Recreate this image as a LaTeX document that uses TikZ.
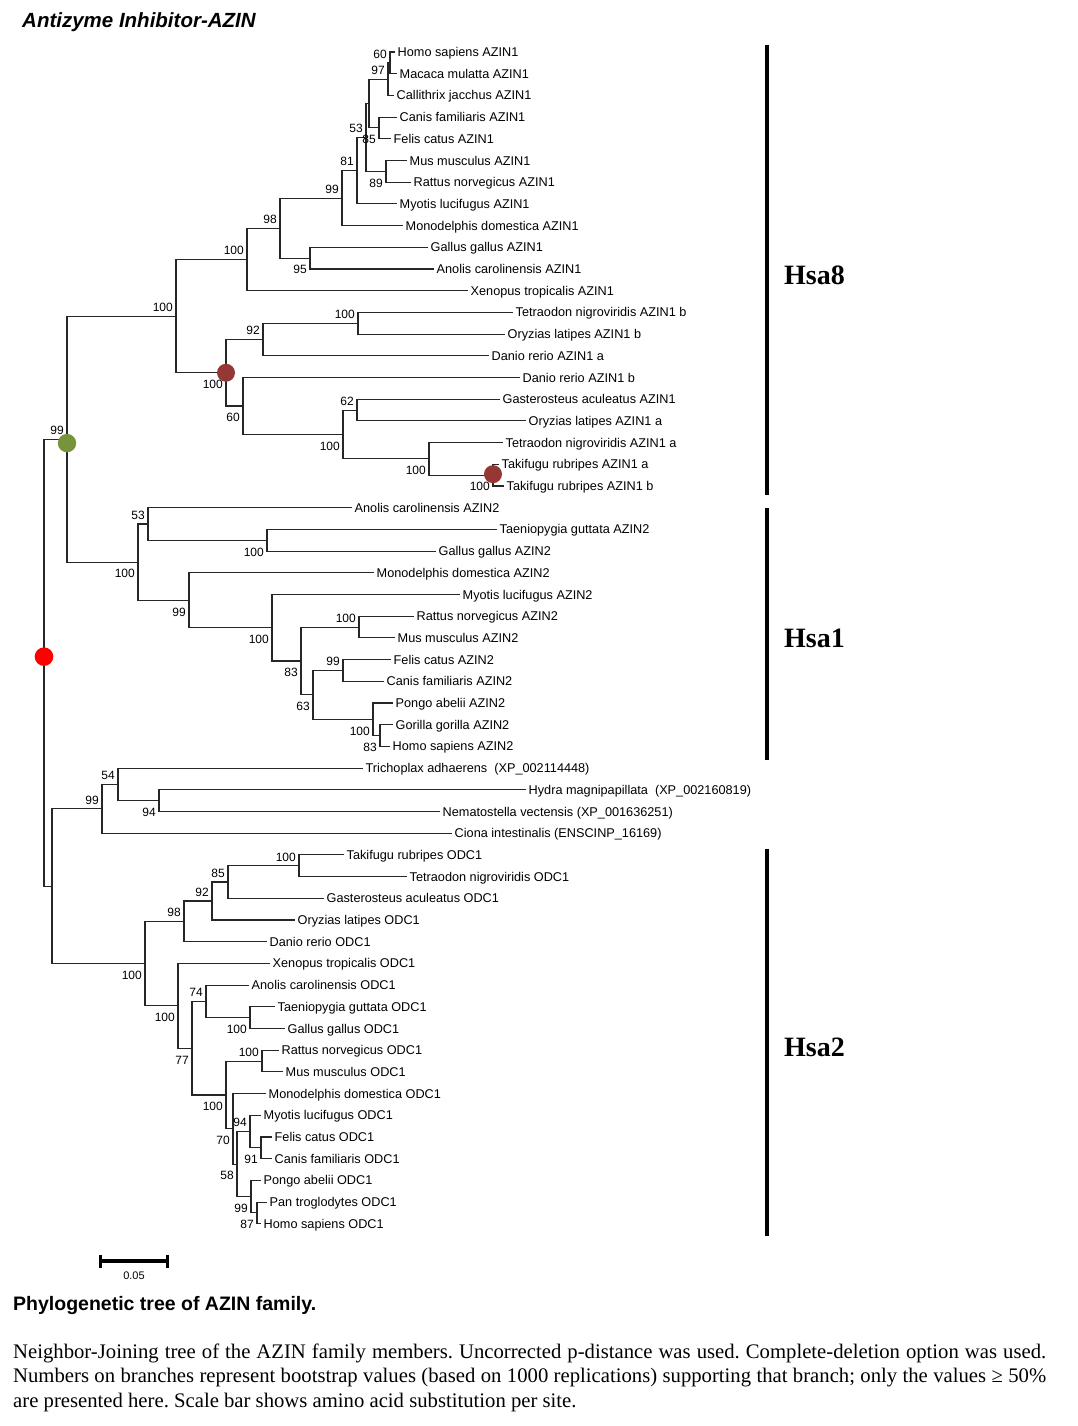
\documentclass[tikz,border=0pt]{standalone}
\usepackage{fontspec}
\setmainfont{Liberation Serif}
\setsansfont{Liberation Sans}
\definecolor{dotred}{RGB}{255,0,0}
\definecolor{dotbrown}{RGB}{149,55,53}
\definecolor{dotgreen}{RGB}{119,147,60}
\frenchspacing
\begin{document}
\begin{tikzpicture}[x=1pt,y=-1pt,
  branch/.style={line width=1.05pt,color=black!85},
  leaf/.style={anchor=west,inner xsep=2.5pt,inner ysep=0pt,text height=9pt,text depth=0pt,
    font=\sffamily\fontsize{12.7}{14}\selectfont},
  bs/.style={anchor=east,inner sep=2pt,text height=8.6pt,text depth=0pt,xshift=-1pt,
    font=\sffamily\fontsize{12}{14}\selectfont},
  bsup/.style={bs,yshift=9pt},
  bsdown/.style={bs,yshift=-11.5pt},
  cladebar/.style={line width=4pt},
  cladename/.style={anchor=base west,inner sep=0pt,font=\bfseries\fontsize{28}{30}\selectfont},
  captionline/.style={anchor=base west,inner sep=0pt,font=\fontsize{20.7}{24}\selectfont}]
  \useasboundingbox (0,0) rectangle (1077,1426);

  \node[anchor=base west,inner sep=0pt,font=\sffamily\bfseries\itshape\fontsize{20.5}{24}\selectfont]
    (title) at (22,28) {Antizyme Inhibitor-AZIN};

  \foreach \tx/\name [count=\i] in {
    395/Homo sapiens AZIN1, 397/Macaca mulatta AZIN1, 394/Callithrix jacchus AZIN1,
    397/Canis familiaris AZIN1, 391/Felis catus AZIN1, 407/Mus musculus AZIN1,
    411/Rattus norvegicus AZIN1, 397/Myotis lucifugus AZIN1, 403/Monodelphis domestica AZIN1,
    428/Gallus gallus AZIN1, 434/Anolis carolinensis AZIN1, 468/Xenopus tropicalis AZIN1,
    513/Tetraodon nigroviridis AZIN1 b, 505/Oryzias latipes AZIN1 b, 489/Danio rerio AZIN1 a,
    520/Danio rerio AZIN1 b, 500/Gasterosteus aculeatus AZIN1, 526/Oryzias latipes AZIN1 a,
    503/Tetraodon nigroviridis AZIN1 a, 499/Takifugu rubripes AZIN1 a, 504/Takifugu rubripes AZIN1 b,
    352/Anolis carolinensis AZIN2, 497/Taeniopygia guttata AZIN2, 436/Gallus gallus AZIN2,
    374/Monodelphis domestica AZIN2, 460/Myotis lucifugus AZIN2, 414/Rattus norvegicus AZIN2,
    395/Mus musculus AZIN2, 391/Felis catus AZIN2, 384/Canis familiaris AZIN2,
    393/Pongo abelii AZIN2, 393/Gorilla gorilla AZIN2, 390/Homo sapiens AZIN2,
    363/Trichoplax adhaerens~~(XP\_002114448), 526/Hydra magnipapillata~~(XP\_002160819),
    440/Nematostella vectensis (XP\_001636251), 452/Ciona intestinalis (ENSCINP\_16169),
    344/Takifugu rubripes ODC1, 407/Tetraodon nigroviridis ODC1, 324/Gasterosteus aculeatus ODC1,
    295/Oryzias latipes ODC1, 267/Danio rerio ODC1, 270/Xenopus tropicalis ODC1,
    249/Anolis carolinensis ODC1, 275/Taeniopygia guttata ODC1, 285/Gallus gallus ODC1,
    279/Rattus norvegicus ODC1, 283/Mus musculus ODC1, 266/Monodelphis domestica ODC1,
    261/Myotis lucifugus ODC1, 272/Felis catus ODC1, 272/Canis familiaris ODC1,
    261/Pongo abelii ODC1, 267/Pan troglodytes ODC1, 261/Homo sapiens ODC1}
    \node[leaf] (l\i) at (\tx,{52+21.7*(\i-1)}) {\name};

  % AZIN1
  \coordinate (a1) at (390,62.85);
  \coordinate (a2) at (388,79.1);
  \coordinate (a3) at (379,127.95);
  \coordinate (a4) at (369,103.5);
  \coordinate (a5) at (386,171.35);
  \coordinate (a6) at (366,137.4);
  \coordinate (a7) at (357,170.65);
  \coordinate (a8) at (342,198.1);
  \coordinate (a9) at (310,258.15);
  \coordinate (a10) at (280,228.1);
  \coordinate (a11) at (247,259.4);
  \coordinate (f1) at (358,323.25);
  \coordinate (f2) at (263,339.5);
  \coordinate (f3) at (357,410.05);
  \coordinate (f4) at (493,475.15);
  \coordinate (f5) at (429,458.9);
  \coordinate (f6) at (343,434.5);
  \coordinate (f7) at (243,406);
  \coordinate (f8) at (226,372.75);
  \coordinate (z1) at (176,316.1);
  % AZIN2
  \coordinate (b1) at (267,540.25);
  \coordinate (b2) at (148,524);
  \coordinate (b3) at (359,627.05);
  \coordinate (b4) at (343,670.45);
  \coordinate (b5) at (380,735.55);
  \coordinate (b6) at (373,719.3);
  \coordinate (b7) at (313,694.9);
  \coordinate (b8) at (301,661);
  \coordinate (b9) at (272,627.75);
  \coordinate (b10) at (189,600.3);
  \coordinate (b11) at (138,562.15);
  \coordinate (g) at (67,439.1);
  % outgroup
  \coordinate (o1) at (159,800.65);
  \coordinate (o2) at (118,784.4);
  \coordinate (o3) at (102,808.8);
  % ODC1
  \coordinate (c1) at (299,865.75);
  \coordinate (c2) at (228,882);
  \coordinate (c3) at (212,901);
  \coordinate (c4) at (184,921.35);
  \coordinate (c5) at (250,1017.65);
  \coordinate (c6) at (206,1001.4);
  \coordinate (c7) at (262,1061.05);
  \coordinate (c8) at (261,1147.85);
  \coordinate (c9) at (250,1131.6);
  \coordinate (c10) at (257,1212.95);
  \coordinate (c11) at (251,1196.7);
  \coordinate (c12) at (237,1164.15);
  \coordinate (c13) at (233,1128.9);
  \coordinate (c14) at (226,1095);
  \coordinate (c15) at (192,1048.2);
  \coordinate (c16) at (178,1005.8);
  \coordinate (c17) at (145,963.6);
  \coordinate (r2) at (52,886.2);
  \coordinate (root) at (44,662.65);

  \draw[branch] (l1.west) -| (a1) |- (l2.west);
  \draw[branch] (a1) -| (a2) |- (l3.west);
  \draw[branch] (l4.west) -| (a3) |- (l5.west);
  \draw[branch] (a2) -| (a4) |- (a3);
  \draw[branch] (l6.west) -| (a5) |- (l7.west);
  \draw[branch] (a4) -| (a6) |- (a5);
  \draw[branch] (a6) -| (a7) |- (l8.west);
  \draw[branch] (a7) -| (a8) |- (l9.west);
  \draw[branch] (l10.west) -| (a9) |- (l11.west);
  \draw[branch] (a8) -| (a10) |- (a9);
  \draw[branch] (a10) -| (a11) |- (l12.west);
  \draw[branch] (l13.west) -| (f1) |- (l14.west);
  \draw[branch] (f1) -| (f2) |- (l15.west);
  \draw[branch] (l17.west) -| (f3) |- (l18.west);
  \draw[branch] (l20.west) -| (f4) |- (l21.west);
  \draw[branch] (l19.west) -| (f5) |- (f4);
  \draw[branch] (f3) -| (f6) |- (f5);
  \draw[branch] (l16.west) -| (f7) |- (f6);
  \draw[branch] (f2) -| (f8) |- (f7);
  \draw[branch] (a11) -| (z1) |- (f8);

  \draw[branch] (l23.west) -| (b1) |- (l24.west);
  \draw[branch] (l22.west) -| (b2) |- (b1);
  \draw[branch] (l27.west) -| (b3) |- (l28.west);
  \draw[branch] (l29.west) -| (b4) |- (l30.west);
  \draw[branch] (l32.west) -| (b5) |- (l33.west);
  \draw[branch] (l31.west) -| (b6) |- (b5);
  \draw[branch] (b4) -| (b7) |- (b6);
  \draw[branch] (b3) -| (b8) |- (b7);
  \draw[branch] (l26.west) -| (b9) |- (b8);
  \draw[branch] (l25.west) -| (b10) |- (b9);
  \draw[branch] (b2) -| (b11) |- (b10);
  \draw[branch] (z1) -| (g) |- (b11);

  \draw[branch] (l35.west) -| (o1) |- (l36.west);
  \draw[branch] (l34.west) -| (o2) |- (o1);
  \draw[branch] (o2) -| (o3) |- (l37.west);

  \draw[branch] (l38.west) -| (c1) |- (l39.west);
  \draw[branch] (c1) -| (c2) |- (l40.west);
  \draw[branch] (c2) -| (c3) |- (l41.west);
  \draw[branch] (c3) -| (c4) |- (l42.west);
  \draw[branch] (l45.west) -| (c5) |- (l46.west);
  \draw[branch] (l44.west) -| (c6) |- (c5);
  \draw[branch] (l47.west) -| (c7) |- (l48.west);
  \draw[branch] (l51.west) -| (c8) |- (l52.west);
  \draw[branch] (l50.west) -| (c9) |- (c8);
  \draw[branch] (l54.west) -| (c10) |- (l55.west);
  \draw[branch] (l53.west) -| (c11) |- (c10);
  \draw[branch] (c9) -| (c12) |- (c11);
  \draw[branch] (l49.west) -| (c13) |- (c12);
  \draw[branch] (c7) -| (c14) |- (c13);
  \draw[branch] (c6) -| (c15) |- (c14);
  \draw[branch] (l43.west) -| (c16) |- (c15);
  \draw[branch] (c4) -| (c17) |- (c16);
  \draw[branch] (o3) -| (r2) |- (c17);
  \draw[branch] (g) -| (root) |- (r2);

  \foreach \n/\v in {a1/60,a2/97,a6/53,a7/81,a8/99,a10/98,a11/100,f1/100,f2/92,f3/62,
    z1/100,b2/53,b3/100,b4/99,g/99,o2/54,o3/99,c1/100,c2/85,c3/92,c4/98,c6/74,c7/100,c9/94}
    \node[bsup] (bs\n) at (\n) {\v};
  \foreach \n/\v in {a3/85,a5/89,a9/95,f4/100,f5/100,f6/100,f7/60,f8/100,b1/100,b5/83,
    b6/100,b7/63,b8/83,b9/100,b10/99,b11/100,o1/94,c5/100,c8/91,c10/87,c11/99,c12/58,
    c13/70,c14/100,c15/77,c16/100,c17/100}
    \node[bsdown] (bs\n) at (\n) {\v};

  \fill[dotgreen] ([yshift=-4pt]g) circle(9.2);
  \fill[dotbrown] (f8) circle(9);
  \fill[dotbrown] ([yshift=1pt]f4) circle(9);
  \fill[dotred] ([yshift=6pt]root) circle(9.3);

  \draw[cladebar] (767,45) -- (767,495);
  \draw[cladebar] (767,508) -- (767,760);
  \draw[cladebar] (767,849) -- (767,1236);
  \node[cladename] (hsa8) at (784,284) {Hsa8};
  \node[cladename] (hsa1) at (784,647) {Hsa1};
  \node[cladename] (hsa2) at (784,1056) {Hsa2};

  \coordinate (sbl) at (100,1261);
  \coordinate (sbr) at (167,1261);
  \draw[line width=3.5pt] (sbl) -- (sbr);
  \draw[line width=3pt] ([yshift=6.5pt]sbl) -- ([yshift=-6.5pt]sbl);
  \draw[line width=3pt] ([yshift=6.5pt]sbr) -- ([yshift=-6.5pt]sbr);
  \node[inner sep=0pt,font=\sffamily\fontsize{11}{12}\selectfont] (sblab) at (134,1276) {0.05};

  \node[anchor=base west,inner sep=0pt,font=\sffamily\bfseries\fontsize{19.5}{22}\selectfont]
    (figtitle) at (13,1310) {Phylogenetic tree of AZIN family.};
  \node[captionline] (cap1) at (13,1358) {\makebox[1033pt][s]{Neighbor-Joining tree of the AZIN family members. Uncorrected p-distance was used. Complete-deletion option was used.}};
  \node[captionline] (cap2) at (13,1382.5) {\makebox[1033pt][s]{Numbers on branches represent bootstrap values (based on 1000 replications) supporting that branch; only the values ≥ 50\%}};
  \node[captionline] (cap3) at (13,1407) {are presented here. Scale bar shows amino acid substitution per site.};
\end{tikzpicture}
\end{document}
